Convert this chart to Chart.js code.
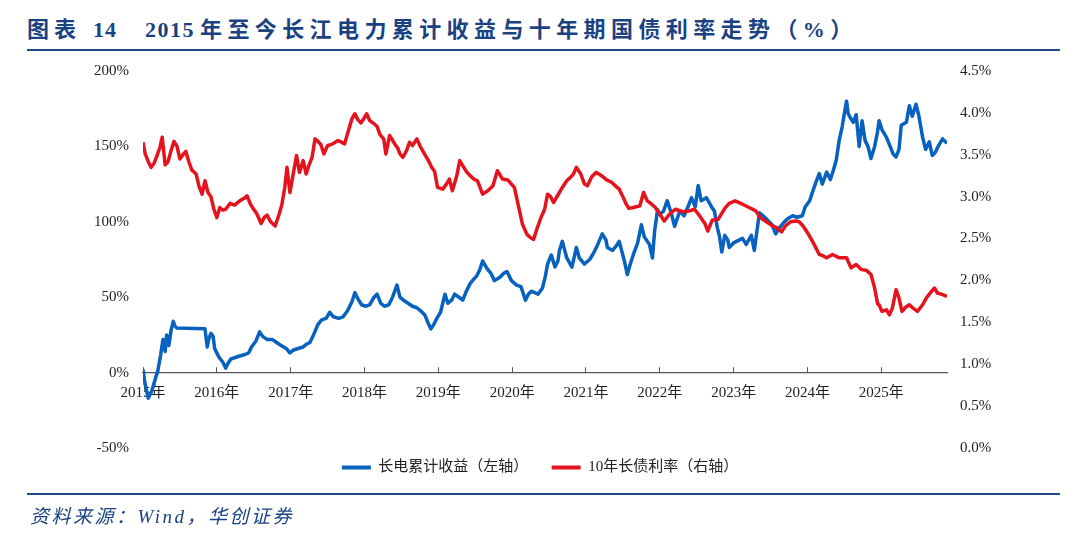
<!DOCTYPE html>
<html>
<head>
<meta charset="utf-8">
<script src="https://cdn.jsdelivr.net/npm/chart.js@4.4.1/dist/chart.umd.min.js"></script>
<style>
html, body { margin: 0; padding: 0; background: #fff; }
#page { position: relative; width: 1080px; height: 541px; overflow: hidden; background: #fff; }
#chart { position: absolute; left: 0; top: 0; }
.t { position: absolute; top: 18px; font: bold 22px/24px "Liberation Serif", "Noto Sans CJK SC", serif; color: #1a4282; white-space: nowrap; }
.rule { position: absolute; left: 27px; width: 1033px; height: 2px; background: #1f4a86; }
#src { position: absolute; left: 30px; top: 505px; font: italic 19px/24px "Liberation Serif", "Noto Sans CJK SC", serif; color: #1a4282; letter-spacing: 2.5px; white-space: nowrap; }
</style>
</head>
<body>
<div id="page">
  <span class="t" style="left:27px;letter-spacing:5px">图表</span>
  <span class="t" style="left:93px;letter-spacing:1px">14</span>
  <span class="t" style="left:145px;letter-spacing:1.5px">2015</span>
  <span class="t" style="left:200px;letter-spacing:5.4px">年至今长江电力累计收益与十年期国债利率走势（%）</span>
  <div class="rule" style="top:49px"></div>
  <canvas id="chart" width="1080" height="541"></canvas>
  <div class="rule" style="top:493px"></div>
  <div id="src">资料来源：Wind，华创证券</div>
</div>
<script>
// 长电累计收益（%），[年份, 数值]
var changdian = [
  [2015.00,2],[2015.03,-8],[2015.07,-17],[2015.12,-12],[2015.18,-2],[2015.20,1],[2015.24,12],[2015.27,22],
  [2015.30,14],[2015.32,25],[2015.35,18],[2015.38,28],[2015.41,34],[2015.43,31],[2015.46,29.5],[2015.84,29],
  [2015.87,17],[2015.89,22],[2015.92,26],[2015.95,24],[2015.97,16],
  [2016.01,12],[2016.04,9.5],[2016.08,7],[2016.12,3],[2016.15,6],[2016.19,9],[2016.25,10],[2016.31,11],
  [2016.38,12],[2016.43,13],[2016.47,17],[2016.53,21],[2016.58,27],[2016.62,24],[2016.68,22],[2016.75,22],
  [2016.81,20],[2016.87,18],[2016.94,16],[2016.99,13],
  [2017.04,15],[2017.10,16],[2017.17,17],[2017.22,19],[2017.26,20],[2017.31,25],[2017.37,32],[2017.42,35],
  [2017.48,36],[2017.53,40],[2017.58,37],[2017.65,36],[2017.71,37],[2017.77,41],[2017.83,47],[2017.87,53],
  [2017.91,49],[2017.96,45],
  [2018.02,44],[2018.07,45],[2018.13,50],[2018.17,52],[2018.22,46],[2018.27,44],[2018.33,45],[2018.38,50],
  [2018.44,58],[2018.48,50],[2018.53,48],[2018.59,46],[2018.65,44],[2018.71,43],[2018.76,41],[2018.82,38],
  [2018.86,33],[2018.90,29],[2018.94,32],[2018.98,36],
  [2019.03,40],[2019.09,52],[2019.13,46],[2019.18,48],[2019.22,52],[2019.28,50],[2019.33,48],[2019.38,54],
  [2019.43,59],[2019.48,62],[2019.52,64],[2019.56,68],[2019.60,74],[2019.66,69],[2019.71,66],[2019.76,61],
  [2019.83,63],[2019.89,66],[2019.93,67],[2019.99,61],
  [2020.06,58],[2020.12,57],[2020.18,48],[2020.22,52],[2020.26,54],[2020.35,52],[2020.41,56],[2020.45,64],
  [2020.48,72],[2020.53,78],[2020.58,70],[2020.62,74],[2020.64,81],[2020.68,87],[2020.74,76],[2020.81,70],
  [2020.87,83],[2020.91,76],[2020.98,72],
  [2021.05,75],[2021.10,79],[2021.16,85],[2021.22,92],[2021.27,88],[2021.29,83],[2021.36,81],[2021.41,84],
  [2021.45,87],[2021.52,74],[2021.56,65],[2021.60,72],[2021.64,78],[2021.70,86],[2021.75,98],[2021.79,90],
  [2021.86,85],[2021.90,76],[2021.93,94],[2021.97,108],
  [2022.00,105],[2022.05,107],[2022.10,114],[2022.16,105],[2022.20,97],[2022.27,107],[2022.33,104],[2022.39,111],
  [2022.43,116],[2022.48,110],[2022.52,124],[2022.56,114],[2022.63,116],[2022.70,110],[2022.74,107],[2022.78,96],
  [2022.81,90],[2022.84,80],[2022.88,91],[2022.92,88],[2022.94,83],
  [2023.00,86],[2023.04,87],[2023.08,88],[2023.12,89],[2023.17,85],[2023.24,91],[2023.28,81],[2023.31,92],
  [2023.35,106],[2023.40,104],[2023.46,101],[2023.52,98],[2023.57,92],[2023.62,96],[2023.67,99],[2023.73,102],
  [2023.80,104],[2023.86,103],[2023.93,104],[2023.97,110],
  [2024.03,114],[2024.07,120],[2024.12,127],[2024.16,132],[2024.20,125],[2024.26,133],[2024.31,128],[2024.35,134],
  [2024.39,141],[2024.43,154],[2024.47,163],[2024.50,172],[2024.53,180],[2024.55,172],[2024.58,169],[2024.62,166],
  [2024.66,171],[2024.70,150],[2024.74,167],[2024.78,154],[2024.82,150],[2024.86,142],[2024.91,150],[2024.95,160],
  [2024.97,167],
  [2025.01,161],[2025.07,156],[2025.12,150],[2025.16,145],[2025.20,143],[2025.24,148],[2025.27,164],[2025.34,166],
  [2025.38,177],[2025.42,170],[2025.47,178],[2025.51,170],[2025.56,156],[2025.60,148],[2025.65,153],[2025.69,144],
  [2025.73,146],[2025.77,150],[2025.83,155],[2025.87,153],[2025.89,152]
];

// 10年长债利率（%），[年份, 数值]
var guozhai = [
  [2015.00,3.65],[2015.03,3.51],[2015.07,3.42],[2015.11,3.35],[2015.15,3.40],[2015.19,3.49],[2015.23,3.59],[2015.26,3.71],
  [2015.30,3.38],[2015.34,3.42],[2015.38,3.55],[2015.42,3.66],[2015.46,3.60],[2015.50,3.45],[2015.54,3.50],[2015.58,3.54],
  [2015.62,3.42],[2015.66,3.32],[2015.72,3.27],[2015.76,3.12],[2015.80,3.03],[2015.84,3.19],[2015.88,3.05],[2015.92,3.00],
  [2015.96,2.85],
  [2016.00,2.75],[2016.04,2.87],[2016.08,2.84],[2016.12,2.85],[2016.18,2.92],[2016.24,2.90],[2016.31,2.95],[2016.37,2.98],
  [2016.41,3.01],[2016.45,2.92],[2016.49,2.86],[2016.54,2.80],[2016.60,2.68],[2016.64,2.75],[2016.68,2.78],[2016.73,2.70],
  [2016.79,2.65],[2016.84,2.78],[2016.88,2.90],[2016.92,3.11],[2016.95,3.35],[2016.99,3.05],
  [2017.03,3.25],[2017.08,3.49],[2017.12,3.29],[2017.17,3.43],[2017.21,3.27],[2017.25,3.38],[2017.29,3.47],[2017.33,3.69],
  [2017.37,3.66],[2017.41,3.62],[2017.45,3.51],[2017.50,3.61],[2017.57,3.63],[2017.64,3.67],[2017.69,3.65],[2017.73,3.63],
  [2017.77,3.75],[2017.83,3.93],[2017.87,3.99],[2017.91,3.92],[2017.95,3.88],[2017.99,3.93],
  [2018.03,3.99],[2018.07,3.91],[2018.13,3.87],[2018.17,3.84],[2018.21,3.74],[2018.26,3.69],[2018.29,3.51],[2018.34,3.73],
  [2018.41,3.63],[2018.45,3.58],[2018.48,3.51],[2018.52,3.47],[2018.57,3.55],[2018.61,3.65],[2018.65,3.61],[2018.71,3.69],
  [2018.76,3.59],[2018.82,3.50],[2018.86,3.44],[2018.91,3.35],[2018.95,3.30],[2018.99,3.11],
  [2019.06,3.09],[2019.11,3.15],[2019.15,3.21],[2019.19,3.07],[2019.25,3.25],[2019.29,3.43],[2019.33,3.37],[2019.38,3.30],
  [2019.42,3.26],[2019.48,3.21],[2019.53,3.19],[2019.57,3.10],[2019.60,3.03],[2019.67,3.07],[2019.74,3.13],[2019.80,3.31],
  [2019.87,3.21],[2019.94,3.20],[2019.99,3.15],
  [2020.03,3.11],[2020.07,2.95],[2020.10,2.83],[2020.14,2.67],[2020.20,2.55],[2020.25,2.51],[2020.29,2.49],[2020.33,2.60],
  [2020.39,2.75],[2020.44,2.85],[2020.48,3.03],[2020.52,3.00],[2020.56,2.93],[2020.62,3.02],[2020.68,3.11],[2020.74,3.19],
  [2020.79,3.23],[2020.83,3.27],[2020.87,3.35],[2020.93,3.27],[2020.98,3.15],
  [2021.02,3.13],[2021.08,3.24],[2021.14,3.29],[2021.21,3.25],[2021.28,3.20],[2021.35,3.17],[2021.41,3.12],[2021.45,3.09],
  [2021.50,3.00],[2021.54,2.92],[2021.58,2.86],[2021.64,2.87],[2021.73,2.89],[2021.78,3.05],[2021.83,2.95],[2021.89,2.91],
  [2021.94,2.87],
  [2022.00,2.79],[2022.06,2.71],[2022.13,2.79],[2022.21,2.85],[2022.31,2.82],[2022.40,2.83],[2022.47,2.85],[2022.54,2.77],
  [2022.61,2.68],[2022.65,2.59],[2022.71,2.72],[2022.79,2.73],[2022.88,2.86],[2022.94,2.92],
  [2023.02,2.95],[2023.12,2.91],[2023.21,2.87],[2023.30,2.83],[2023.36,2.75],[2023.43,2.71],[2023.51,2.66],[2023.58,2.63],
  [2023.65,2.58],[2023.70,2.65],[2023.77,2.70],[2023.84,2.71],[2023.89,2.70],[2023.94,2.65],
  [2024.00,2.57],[2024.04,2.51],[2024.09,2.43],[2024.16,2.31],[2024.22,2.29],[2024.26,2.27],[2024.34,2.31],[2024.43,2.27],
  [2024.53,2.27],[2024.59,2.15],[2024.66,2.19],[2024.73,2.13],[2024.80,2.12],[2024.86,2.07],[2024.91,1.91],[2024.95,1.72],
  [2024.97,1.71],
  [2025.01,1.63],[2025.07,1.65],[2025.11,1.59],[2025.15,1.67],[2025.20,1.89],[2025.24,1.79],[2025.28,1.63],[2025.33,1.68],
  [2025.38,1.71],[2025.43,1.67],[2025.49,1.63],[2025.56,1.71],[2025.61,1.79],[2025.68,1.87],[2025.72,1.91],[2025.76,1.85],
  [2025.83,1.83],[2025.89,1.81]
];

var yearTicks = [2015, 2016, 2017, 2018, 2019, 2020, 2021, 2022, 2023, 2024, 2025];
var legendNames = ["长电累计收益（左轴）", "10年长债利率（右轴）"];

var blue = "#0661bf";
var red = "#e4131d";
var fontFam = "'Liberation Serif', 'Noto Sans CJK SC', serif";

function toPoints(arr) {
  return arr.map(function(p) { return {x: p[0], y: p[1]}; });
}

var ctx = document.getElementById("chart");
var grafica = new Chart(ctx, {
  type: "line",
  data: {
    datasets: [{
      label: legendNames[0],
      data: toPoints(changdian),
      yAxisID: "y",
      borderColor: blue,
      backgroundColor: blue,
      borderWidth: 3.5,
      pointRadius: 0,
      tension: 0,
      borderJoinStyle: "round",
      order: 1
    }, {
      label: legendNames[1],
      data: toPoints(guozhai),
      yAxisID: "y1",
      borderColor: red,
      backgroundColor: red,
      borderWidth: 3.5,
      pointRadius: 0,
      tension: 0,
      borderJoinStyle: "round",
      order: 0
    }]
  },
  options: {
    responsive: false,
    animation: false,
    layout: { padding: { top: 71, left: 0, right: 0, bottom: 56 } },
    plugins: {
      tooltip: { enabled: false },
      legend: {
        position: "bottom",
        labels: {
          boxWidth: 29,
          boxHeight: 4,
          padding: 12,
          color: "#222",
          font: { family: fontFam, size: 15 },
          sort: function(a, b) { return a.datasetIndex - b.datasetIndex; },
          generateLabels: function(chart) {
            var items = Chart.defaults.plugins.legend.labels.generateLabels(chart);
            items.forEach(function(it) {
              it.lineWidth = 0;
              if (it.datasetIndex === 0) it.text = it.text + "\u3000 ";
            });
            return items;
          }
        }
      }
    },
    scales: {
      x: {
        type: "linear",
        position: { y: 0 },
        min: changdian[0][0],
        max: changdian[changdian.length - 1][0],
        afterBuildTicks: function(scale) {
          scale.ticks = yearTicks.map(function(v) { return {value: v}; });
        },
        afterFit: function(scale) { scale.height = 0; },
        grid: { drawOnChartArea: false, drawTicks: true, tickLength: -6, color: "#555", lineWidth: 1 },
        border: { display: true, color: "#555", width: 1.2 },
        ticks: {
          autoSkip: false,
          maxRotation: 0,
          padding: 17,
          color: "#222",
          font: { family: fontFam, size: 15 },
          callback: function(v) { return v + "年"; }
        }
      },
      y: {
        position: "left",
        min: -50,
        max: 200,
        afterFit: function(scale) { scale.width = 143; },
        grid: { display: false, drawTicks: false },
        border: { display: false },
        ticks: {
          stepSize: 50,
          padding: 14,
          color: "#222",
          font: { family: fontFam, size: 15 },
          callback: function(v) { return v + "%"; }
        }
      },
      y1: {
        position: "right",
        min: 0,
        max: 4.5,
        afterFit: function(scale) { scale.width = 133; },
        grid: { display: false, drawTicks: false },
        border: { display: false },
        ticks: {
          stepSize: 0.5,
          padding: 13,
          color: "#222",
          font: { family: fontFam, size: 15 },
          callback: function(v) { return v.toFixed(1) + "%"; }
        }
      }
    }
  }
});
</script>
</body>
</html>
